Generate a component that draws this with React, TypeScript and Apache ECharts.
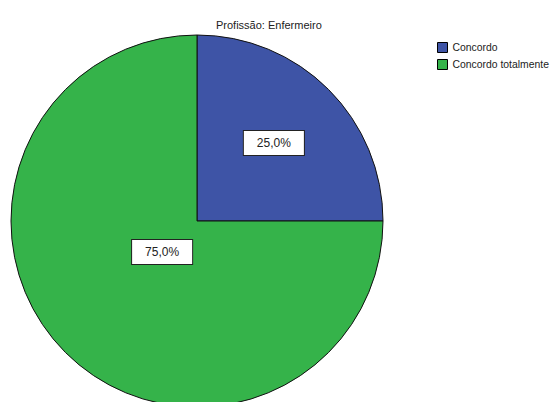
import React, { useEffect, useRef } from "react";
import * as echarts from "echarts";

const categories = ["Concordo", "Concordo totalmente"];
const values = [25.0, 75.0];
const colors = ["#3E54A6", "#35B34A"];
const titleText = "Profissão: Enfermeiro";
// label nudges from the default inside position
const labelShift = [
  [9, -10],
  [33, -37],
];

export default function App() {
  const ref = useRef<HTMLDivElement>(null);
  useEffect(() => {
    const chart = echarts.init(ref.current!, null, { renderer: "svg" });
    chart.setOption({
      animation: false,
      backgroundColor: "#ffffff",
      title: {
        text: titleText,
        left: 216,
        top: 19,
        padding: 0,
        textStyle: {
          fontFamily: "Liberation Sans",
          fontSize: 11,
          fontWeight: "normal",
          color: "#222",
        },
      },
      legend: {
        orient: "vertical",
        left: 437,
        top: 42,
        padding: 0,
        itemWidth: 10,
        itemHeight: 10,
        itemGap: 6,
        icon: "rect",
        data: categories,
        textStyle: {
          fontFamily: "Liberation Sans",
          fontSize: 10.4,
          color: "#222",
        },
        itemStyle: { borderColor: "#000", borderWidth: 1 },
      },
      series: [
        {
          type: "pie",
          center: [197, 221],
          radius: 186,
          startAngle: 90,
          clockwise: true,
          silent: true,
          data: categories.map((c, i) => ({
            name: c,
            value: values[i],
            itemStyle: { color: colors[i] },
          })),
          itemStyle: { borderColor: "#111", borderWidth: 1 },
          label: {
            show: true,
            position: "inside",
            formatter: (p: any) => p.value.toFixed(1).replace(".", ",") + "%",
            fontFamily: "Liberation Sans",
            fontSize: 12,
            color: "#222",
            backgroundColor: "#fff",
            borderColor: "#222",
            borderWidth: 1,
            padding: [6, 13],
          },
          labelLine: { show: false },
          labelLayout: (params: any) => ({
            dx: labelShift[params.dataIndex][0],
            dy: labelShift[params.dataIndex][1],
          }),
        },
      ],
    });
    return () => chart.dispose();
  }, []);
  return (
    <div
      ref={ref}
      style={{ position: "fixed", left: 0, top: 0, width: 552, height: 402 }}
    />
  );
}
